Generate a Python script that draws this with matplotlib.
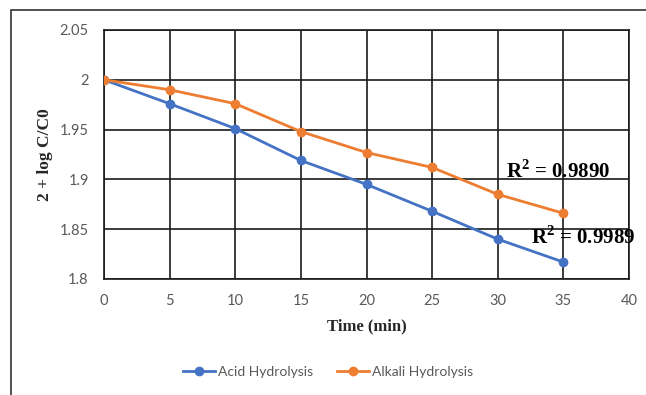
import matplotlib
matplotlib.use("Agg")
import matplotlib.pyplot as plt
from matplotlib.patches import Rectangle

plt.rcParams["mathtext.fontset"] = "custom"
plt.rcParams["mathtext.rm"] = "Liberation Serif:bold"
plt.rcParams["mathtext.bf"] = "Liberation Serif:bold"

time_min = [0, 5, 10, 15, 20, 25, 30, 35]
acid = [2.000, 1.976, 1.951, 1.919, 1.895, 1.868, 1.840, 1.817]
alkali = [2.000, 1.990, 1.976, 1.948, 1.927, 1.912, 1.885, 1.866]
x_ticks = [0, 5, 10, 15, 20, 25, 30, 35, 40]
y_ticks = [1.8, 1.85, 1.9, 1.95, 2.0, 2.05]
y_tick_labels = ["1.8", "1.85", "1.9", "1.95", "2", "2.05"]

fig = plt.figure(figsize=(6.46, 3.95), dpi=100)
fig.patch.set_facecolor("white")
fig.add_artist(Rectangle((11/646, -0.1), 1.2, 1 - 10/395 + 0.1, transform=fig.transFigure,
                         fill=False, edgecolor="#333333", linewidth=1.2))

ax = fig.add_axes([104/646, 1 - 279/395, 525/646, 249/395])
ax.plot(time_min, acid, color="#4472C4", lw=2, marker="o", ms=6, label="Acid Hydrolysis", zorder=3)
ax.plot(time_min, alkali, color="#ED7D31", lw=2, marker="o", ms=6, label="Alkali Hydrolysis", zorder=3)

ax.set_xlim(0, 40)
ax.set_ylim(1.8, 2.05)
ax.set_xticks(x_ticks)
ax.set_yticks(y_ticks)
ax.set_yticklabels(y_tick_labels)
ax.grid(True, color="#1a1a1a", lw=1.2)
ax.set_axisbelow(True)
for s in ax.spines.values():
    s.set_color("#1a1a1a")
    s.set_linewidth(1.2)
ax.tick_params(length=0, pad=11, labelsize=10.5, labelcolor="#595959")
for lab in ax.get_xticklabels() + ax.get_yticklabels():
    lab.set_fontfamily("Lato")

ax.set_xlabel("Time (min)", fontfamily="Liberation Serif", fontweight="bold", fontsize=12,
              color="#262626", labelpad=7)
ax.set_ylabel("2 + log C/C0", fontfamily="Liberation Serif", fontweight="bold", fontsize=12.5,
              color="#262626", labelpad=5)

ax.text(30.6, 1.908, r"R$^{\mathbf{2}}$ = 0.9890", fontfamily="Liberation Serif", fontweight="bold",
        fontsize=15, color="black", va="center", ha="left", zorder=4)
ax.text(32.5, 1.842, r"R$^{\mathbf{2}}$ = 0.9989", fontfamily="Liberation Serif", fontweight="bold",
        fontsize=15, color="black", va="center", ha="left", zorder=4)

leg = fig.legend(loc="center", bbox_to_anchor=(328/646, 1 - 372/395), ncol=2, frameon=False,
                 prop={"family": "Lato", "size": 10}, handlelength=2.3, handletextpad=0.2,
                 columnspacing=1.7)
for t in leg.get_texts():
    t.set_color("#595959")

fig.savefig("out.png", dpi=100)
